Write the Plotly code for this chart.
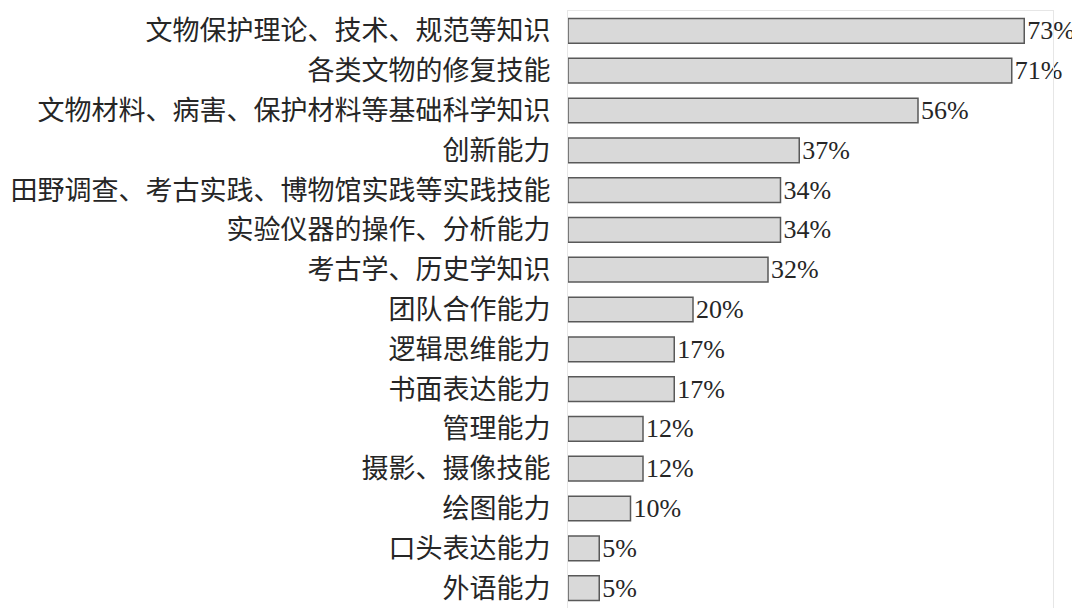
import plotly.graph_objs as go

categories = [
    "文物保护理论、技术、规范等知识",
    "各类文物的修复技能",
    "文物材料、病害、保护材料等基础科学知识",
    "创新能力",
    "田野调查、考古实践、博物馆实践等实践技能",
    "实验仪器的操作、分析能力",
    "考古学、历史学知识",
    "团队合作能力",
    "逻辑思维能力",
    "书面表达能力",
    "管理能力",
    "摄影、摄像技能",
    "绘图能力",
    "口头表达能力",
    "外语能力",
]
shares = [0.73, 0.71, 0.56, 0.37, 0.34, 0.34, 0.32, 0.20, 0.17, 0.17, 0.12, 0.12, 0.10, 0.05, 0.05]
labels = [f"{round(v * 100)}%" for v in shares]

FONT = "Liberation Serif, Noto Sans CJK SC, serif"

bars = go.Bar(
    x=shares,
    y=categories,
    orientation="h",
    text=labels,
    textposition="outside",
    constraintext="none",
    cliponaxis=False,
    textfont=dict(family=FONT, size=26, color="#262626"),
    marker=dict(color="#d9d9d9", line=dict(color="#595959", width=1.5)),
)

# page body has an 8px margin, so the figure is sized to the visible area
layout = go.Layout(
    width=1072,
    height=600,
    paper_bgcolor="white",
    plot_bgcolor="white",
    showlegend=False,
    bargap=0.38,
    margin=dict(l=560, r=27, t=3, b=0, pad=0, autoexpand=False),
    font=dict(family=FONT, color="#262626"),
    xaxis=dict(
        range=[0, 0.776],
        showticklabels=False,
        showgrid=False,
        zeroline=False,
        showline=True,
        mirror=True,
        linecolor="#e6e6e6",
        linewidth=1,
        automargin=False,
    ),
    yaxis=dict(
        autorange="reversed",
        showgrid=False,
        ticks="",
        ticklabelstandoff=11,
        tickfont=dict(family="Noto Sans CJK SC", size=27, color="#262626"),
        showline=True,
        mirror=True,
        linecolor="#e6e6e6",
        linewidth=1,
        automargin=False,
    ),
)

fig = go.Figure(data=[bars], layout=layout)
fig.write_html("out.html")
